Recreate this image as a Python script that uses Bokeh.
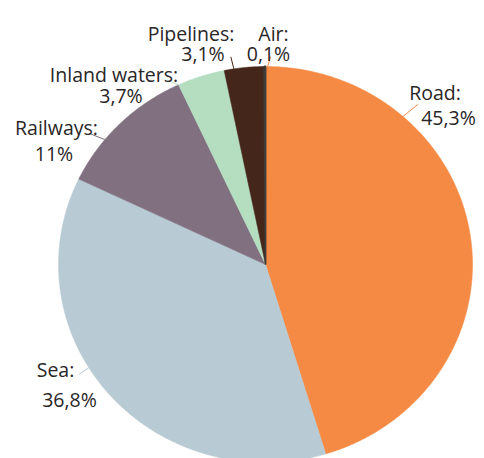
import numpy as np
from bokeh.plotting import figure
from bokeh.models import Range1d, ColumnDataSource
from bokeh.core.properties import value
from bokeh.embed import file_html
from bokeh.resources import INLINE

# ---- data ----
categories = ["Road", "Sea", "Railways", "Inland waters", "Pipelines", "Air"]
shares = [45.3, 36.8, 11.0, 3.7, 3.1, 0.1]
share_labels = ["45,3%", "36,8%", "11%", "3,7%", "3,1%", "0,1%"]

# ---- style / layout ----
colors = ["#F58A45", "#B8CAD3", "#807080", "#B5DEC1", "#45261A", "#3C3C3C"]
leader_colors = ["#F58A45", "#B8CAD3", "#807080", "#B5DEC1", "#45261A", "#F58A45"]
W, H = 484, 458
CX, CY, RX, RY = 265.0, 264.0, 207.0, 198.0
# leader: angle on rim (deg clockwise from top), outward offset (px)
leader_angle = [41.6, 238.6, 309.1, 335.1, 351.2, 0.6]
leader_off = [(15, -12), (-10, 7), (-15, -6), (-9, -4), (-3, -12), (3, -10)]
# label line centres (x, baseline y) for name line and value line
name_pos = [(434.5, 92), (55, 369), (56, 127), (113.5, 74), (190.5, 33), (273, 33)]
val_pos = [(448, 117), (69, 399), (53.5, 153), (120.5, 95), (202.5, 53), (268, 53)]

p = figure(width=W, height=H, x_range=Range1d(0, W), y_range=Range1d(H, 0),
           output_backend="svg", toolbar_location=None, min_border=0)
p.axis.visible = False
p.grid.visible = False
p.outline_line_color = None
p.background_fill_color = "white"

total = sum(shares)
cum = np.concatenate([[0.0], np.cumsum(shares)]) / total * 2 * np.pi
xs, ys = [], []
for i in range(len(shares)):
    n = max(2, int(np.ceil((cum[i + 1] - cum[i]) / 0.01)))
    a = np.linspace(cum[i], cum[i + 1], n)
    xs.append(list(np.concatenate([[CX], CX + RX * np.sin(a)])))
    ys.append(list(np.concatenate([[CY], CY - RY * np.cos(a)])))

src = ColumnDataSource(dict(xs=xs, ys=ys, color=colors,
                            lw=[0.5, 0.5, 0.5, 0.5, 0.5, 1.8]))
p.patches("xs", "ys", source=src, fill_color="color", line_color="color",
          line_width="lw")

# leader lines
x0, y0, x1, y1 = [], [], [], []
for ang, (dx, dy) in zip(leader_angle, leader_off):
    t = np.deg2rad(ang)
    ex, ey = CX + RX * np.sin(t), CY - RY * np.cos(t)
    x0.append(ex); y0.append(ey); x1.append(ex + dx); y1.append(ey + dy)
p.segment(x0, y0, x1, y1, line_color=leader_colors, line_width=1)

font = value("Open Sans")
names = [c + ":" for c in categories]
p.text([q[0] for q in name_pos], [q[1] for q in name_pos], text=names,
       text_font=font, text_font_size="19.5px", text_color="#2a2627",
       text_align="center", text_baseline="alphabetic")
p.text([q[0] for q in val_pos], [q[1] for q in val_pos], text=share_labels,
       text_font=font, text_font_size="19.5px", text_color="#2a2627",
       text_align="center", text_baseline="alphabetic")

open("out.html", "w").write(file_html(p, INLINE))
